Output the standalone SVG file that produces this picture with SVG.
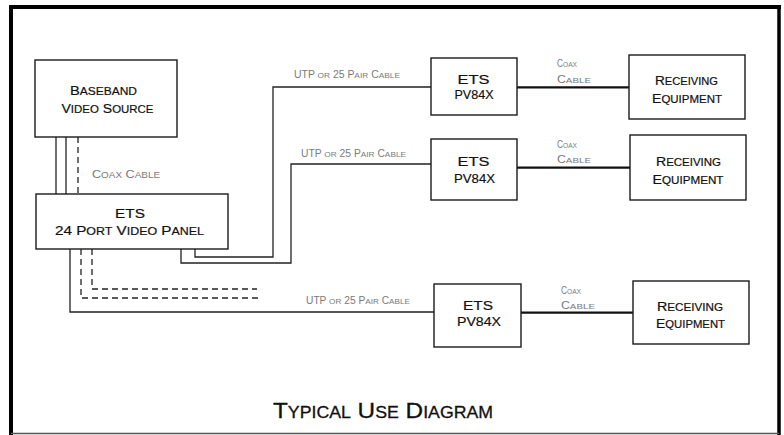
<svg xmlns="http://www.w3.org/2000/svg" width="784" height="435" viewBox="0 0 784 435">
<style>
.box{fill:#fff;stroke:#1a1a1a;stroke-width:1.4}
.lbl{font-family:"Liberation Sans",Arial,sans-serif;font-size:13.5px;font-variant:small-caps;fill:#111;text-anchor:middle;stroke:#111;stroke-width:0.2}
.lbl .sc{font-size:16.2px}
.cap{font-family:"Liberation Sans",Arial,sans-serif;font-size:10px;font-variant:small-caps;fill:#7a7a7a}
.cap .sc{font-size:11.2px}
.wire{fill:none;stroke:#222;stroke-width:1.3}
.coax{fill:none;stroke:#111;stroke-width:2.2}
.dash{fill:none;stroke:#222;stroke-width:1.3;stroke-dasharray:6 4}
.title{font-family:"Liberation Sans",Arial,sans-serif;font-size:22px;font-variant:small-caps;fill:#111;stroke:#111;stroke-width:0.3}
.title .sc{font-size:23.5px}
</style>
<rect x="0" y="0" width="784" height="435" fill="#fff"/>
<g id="frame">
<line x1="9" y1="7" x2="781" y2="7" stroke="#000" stroke-width="4"/>
<line x1="11" y1="5" x2="11" y2="435" stroke="#000" stroke-width="4"/>
<line x1="779" y1="5" x2="779" y2="435" stroke="#000" stroke-width="3.5"/>
<line x1="11" y1="433.5" x2="779" y2="433.5" stroke="#555" stroke-width="1.5"/>
</g>
<g id="connectors">
<line class="wire" x1="56" y1="137" x2="56" y2="194"/>
<line class="wire" x1="66" y1="137" x2="66" y2="194"/>
<line class="dash" x1="78" y1="137" x2="78" y2="194"/>
<polyline class="wire" points="195,249 195,257 273,257 273,87 431,87"/>
<polyline class="wire" points="181,249 181,263 291,263 291,164 431,164"/>
<polyline class="wire" points="70,249 70,312 434,312"/>
<polyline class="dash" points="81,249 81,298 260,298"/>
<polyline class="dash" points="92,249 92,289 257,289"/>
<line class="coax" x1="517" y1="87.3" x2="629" y2="87.3"/>
<line class="coax" x1="517" y1="167.7" x2="630" y2="167.7"/>
<line class="coax" x1="521" y1="312.7" x2="633" y2="312.7"/>
<text class="cap" x="92" y="178" textLength="68" lengthAdjust="spacingAndGlyphs" style="font-size:11.5px">C<tspan class="sc" style="font-size:13px">oax</tspan> C<tspan class="sc" style="font-size:13px">able</tspan></text>
<text class="cap" x="294" y="78" textLength="106" lengthAdjust="spacingAndGlyphs">UTP <tspan class="sc">or</tspan> 25 P<tspan class="sc">air</tspan> C<tspan class="sc">able</tspan></text>
<text class="cap" x="301" y="157" textLength="105" lengthAdjust="spacingAndGlyphs">UTP <tspan class="sc">or</tspan> 25 P<tspan class="sc">air</tspan> C<tspan class="sc">able</tspan></text>
<text class="cap" x="306" y="304" textLength="104" lengthAdjust="spacingAndGlyphs">UTP <tspan class="sc">or</tspan> 25 P<tspan class="sc">air</tspan> C<tspan class="sc">able</tspan></text>
<text class="cap" x="557" y="66.7" textLength="20" lengthAdjust="spacingAndGlyphs">C<tspan class="sc">oax</tspan></text>
<text class="cap" x="557" y="82.7" textLength="34" lengthAdjust="spacingAndGlyphs">C<tspan class="sc">able</tspan></text>
<text class="cap" x="557" y="148.3" textLength="20" lengthAdjust="spacingAndGlyphs">C<tspan class="sc">oax</tspan></text>
<text class="cap" x="557" y="163.3" textLength="34" lengthAdjust="spacingAndGlyphs">C<tspan class="sc">able</tspan></text>
<text class="cap" x="561" y="294" textLength="20" lengthAdjust="spacingAndGlyphs">C<tspan class="sc">oax</tspan></text>
<text class="cap" x="561" y="309" textLength="34" lengthAdjust="spacingAndGlyphs">C<tspan class="sc">able</tspan></text>
</g>
<g id="baseband">
<rect class="box" x="35" y="60" width="142" height="77"/>
<text class="lbl" x="103.5" y="95" textLength="67" lengthAdjust="spacingAndGlyphs">B<tspan class="sc">aseband</tspan></text>
<text class="lbl" x="107.5" y="113.3" textLength="92" lengthAdjust="spacingAndGlyphs">V<tspan class="sc">ideo</tspan> S<tspan class="sc">ource</tspan></text>
</g>
<g id="panel">
<rect class="box" x="36" y="194" width="192" height="55"/>
<text class="lbl" x="130" y="218" textLength="30" lengthAdjust="spacingAndGlyphs">ETS</text>
<text class="lbl" x="129.5" y="235" textLength="149" lengthAdjust="spacingAndGlyphs">24 P<tspan class="sc">ort</tspan> V<tspan class="sc">ideo</tspan> P<tspan class="sc">anel</tspan></text>
</g>
<g id="pv1">
<rect class="box" x="431" y="58" width="86" height="57"/>
<text class="lbl" x="473.5" y="84.3" textLength="32" lengthAdjust="spacingAndGlyphs">ETS</text>
<text class="lbl" x="474" y="98.5" textLength="39" lengthAdjust="spacingAndGlyphs">PV84X</text>
</g>
<g id="pv2">
<rect class="box" x="431" y="139" width="86" height="61"/>
<text class="lbl" x="473.5" y="165.7" textLength="32" lengthAdjust="spacingAndGlyphs">ETS</text>
<text class="lbl" x="474.5" y="182.7" textLength="41" lengthAdjust="spacingAndGlyphs">PV84X</text>
</g>
<g id="pv3">
<rect class="box" x="434" y="284" width="87" height="63"/>
<text class="lbl" x="478" y="310" textLength="30" lengthAdjust="spacingAndGlyphs">ETS</text>
<text class="lbl" x="479" y="326" textLength="44" lengthAdjust="spacingAndGlyphs">PV84X</text>
</g>
<g id="rx1">
<rect class="box" x="629" y="55" width="116" height="64"/>
<text class="lbl" x="686.5" y="85" textLength="63" lengthAdjust="spacingAndGlyphs">R<tspan class="sc">eceiving</tspan></text>
<text class="lbl" x="687" y="102.7" textLength="70" lengthAdjust="spacingAndGlyphs">E<tspan class="sc">quipment</tspan></text>
</g>
<g id="rx2">
<rect class="box" x="630" y="135" width="116" height="65"/>
<text class="lbl" x="688.5" y="165.7" textLength="65" lengthAdjust="spacingAndGlyphs">R<tspan class="sc">eceiving</tspan></text>
<text class="lbl" x="688" y="184" textLength="71" lengthAdjust="spacingAndGlyphs">E<tspan class="sc">quipment</tspan></text>
</g>
<g id="rx3">
<rect class="box" x="633" y="281" width="116" height="63"/>
<text class="lbl" x="690" y="310.7" textLength="66" lengthAdjust="spacingAndGlyphs">R<tspan class="sc">eceiving</tspan></text>
<text class="lbl" x="690.5" y="328" textLength="69" lengthAdjust="spacingAndGlyphs">E<tspan class="sc">quipment</tspan></text>
</g>
<g id="title">
<text class="title" x="273" y="418" textLength="220" lengthAdjust="spacingAndGlyphs">T<tspan class="sc">ypical</tspan> U<tspan class="sc">se</tspan> D<tspan class="sc">iagram</tspan></text>
</g>
</svg>
